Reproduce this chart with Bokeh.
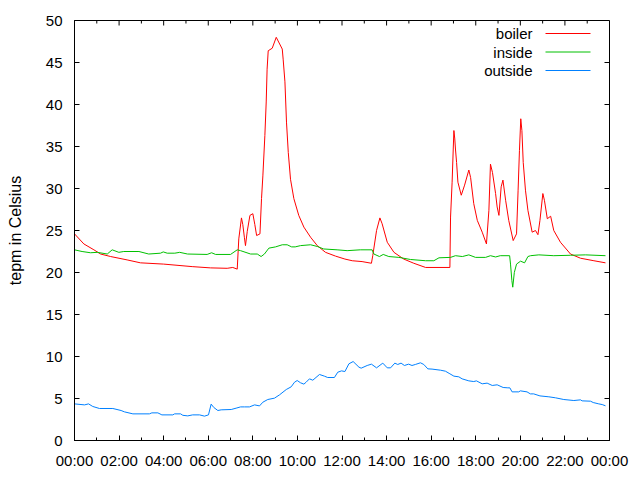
from bokeh.plotting import figure
from bokeh.models import (Range1d, FixedTicker, LinearAxis, Label, Arrow)
from bokeh.embed import file_html
from bokeh.resources import INLINE

# ---- data (time in hours since 00:00) ----
boiler_t = [0.0, 0.42, 0.87, 1.17, 1.62, 2.36, 2.96, 4.0, 5.28, 6.1, 6.85, 7.1, 7.3, 7.37, 7.49, 7.55,
            7.62, 7.67, 7.75, 7.87, 8.0, 8.09, 8.17, 8.32, 8.39, 8.45, 8.54, 8.6, 8.64, 8.69, 8.87, 9.05,
            9.32, 9.36, 9.44, 9.51, 9.59, 9.69, 9.84, 10.06, 10.29, 10.59, 10.89, 11.26, 11.71, 12.13,
            12.46, 12.9, 13.32, 13.38, 13.55, 13.7, 13.8, 14.03, 14.33, 14.77, 15.22, 15.75, 16.84,
            16.87, 16.94, 16.99, 17.02, 17.06, 17.09, 17.14, 17.2, 17.35, 17.5, 17.69, 17.77, 17.91,
            18.07, 18.29, 18.48, 18.59, 18.66, 18.75, 18.89, 18.96, 19.04, 19.14, 19.22, 19.34, 19.48,
            19.68, 19.83, 19.9, 19.96, 20.02, 20.07, 20.13, 20.23, 20.34, 20.53, 20.68, 20.79, 20.88,
            21.01, 21.08, 21.21, 21.36, 21.5, 21.8, 22.25, 22.7, 23.3, 23.82]
boiler_v = [24.6, 23.4, 22.7, 22.2, 21.9, 21.5, 21.15, 21.0, 20.7, 20.55, 20.5, 20.6, 20.4, 24.0, 26.5, 25.7,
            24.2, 23.2, 24.9, 26.8, 27.0, 25.7, 24.4, 24.6, 28.8, 31.5, 36.3, 40.3, 44.2, 46.4, 46.7, 48.0,
            46.6, 45.4, 42.7, 37.9, 34.3, 31.1, 28.8, 26.8, 25.4, 24.2, 23.2, 22.4, 21.95, 21.6,
            21.4, 21.3, 21.1, 22.0, 25.0, 26.5, 25.8, 23.6, 22.4, 21.6, 21.1, 20.6, 20.6,
            26.6, 30.75, 34.7, 36.9, 35.9, 34.7, 33.1, 30.75, 29.2, 30.4, 32.2, 31.3, 28.2,
            26.2, 24.8, 23.4, 27.4, 32.9, 31.9, 29.4, 27.8, 26.8, 30.2, 31.0, 28.6, 26.2,
            23.8, 24.6, 29.8, 34.5, 38.3, 36.9, 33.1, 29.8, 27.4, 24.8, 25.0, 24.5, 26.2,
            29.4, 28.6, 26.4, 26.7, 25.0, 23.6, 22.2, 21.7, 21.4, 21.15]

inside_t = [0.0, 0.34, 0.72, 1.02, 1.47, 1.69, 1.99, 2.21, 2.89, 3.33, 3.86, 3.98, 4.16, 4.5, 4.72, 5.07,
            5.95, 6.15, 6.33, 7.0, 7.3, 7.45, 7.9, 8.2, 8.37, 8.52, 8.72, 9.02, 9.32, 9.54, 9.74, 9.9,
            10.14, 10.59, 10.89, 11.18, 11.78, 12.23, 12.82, 13.35, 13.43, 13.68, 13.85, 14.1, 14.55,
            15.07, 15.75, 16.12, 16.35, 16.87, 17.09, 17.4, 17.69, 17.99, 18.44, 18.66, 18.89, 19.1,
            19.52, 19.56, 19.62, 19.66, 19.73, 19.83, 20.01, 20.19, 20.34, 20.46, 20.83, 21.5, 22.25,
            22.93, 23.82]
inside_v = [22.7, 22.5, 22.35, 22.4, 22.2, 22.7, 22.4, 22.5, 22.5, 22.2, 22.3, 22.45, 22.3, 22.3, 22.4, 22.2,
            22.15, 22.35, 22.15, 22.15, 22.7, 22.6, 22.2, 22.2, 21.9, 22.2, 22.9, 23.05, 23.3, 23.3, 23.05, 23.05,
            23.2, 23.3, 23.1, 22.8, 22.7, 22.6, 22.7, 22.7, 22.2, 21.9, 22.15, 21.9, 21.8,
            21.55, 21.4, 21.4, 21.75, 21.8, 22.0, 21.9, 22.1, 21.8, 21.8, 22.0, 21.85, 22.0,
            22.0, 21.0, 19.05, 18.25, 20.0, 21.0, 21.35, 21.15, 21.9, 22.0, 22.1, 22.0, 22.05,
            22.1, 22.0]

outside_t = [0.0, 0.45, 0.63, 0.82, 1.12, 1.72, 2.09, 2.24, 2.62, 3.36, 3.47, 3.74, 3.92, 4.41, 4.49, 4.76,
             4.86, 5.08, 5.3, 5.61, 5.83, 6.01, 6.13, 6.25, 6.43, 6.58, 7.03, 7.25, 7.45, 7.63, 7.85, 8.08,
             8.3, 8.45, 8.67, 8.97, 9.2, 9.5, 9.72, 9.87, 9.99, 10.14, 10.29, 10.39, 10.54, 10.69, 10.99,
             11.21, 11.36, 11.66, 11.81, 11.98, 12.13, 12.31, 12.5, 12.76, 12.86, 13.13, 13.32, 13.55,
             13.83, 14.03, 14.18, 14.37, 14.5, 14.65, 14.8, 14.99, 15.14, 15.29, 15.52, 15.67, 15.85,
             16.04, 16.42, 16.64, 16.84, 17.02, 17.24, 17.39, 17.69, 17.91, 18.03, 18.29, 18.51, 18.74,
             18.96, 19.23, 19.44, 19.53, 19.63, 19.93, 20.0, 20.3, 20.45, 20.6, 20.88, 21.28, 21.58,
             21.95, 22.4, 22.7, 22.77, 23.15, 23.27, 23.52, 23.67, 23.82]
outside_v = [4.36, 4.24, 4.36, 4.05, 3.81, 3.81, 3.57, 3.41, 3.17, 3.17, 3.29, 3.29, 3.05, 3.05, 3.17, 3.17,
             3.0, 2.93, 3.05, 3.05, 2.9, 3.05, 4.33, 3.93, 3.57, 3.65, 3.69, 3.85, 4.0, 4.0, 4.0, 4.24,
             4.12, 4.56, 4.88, 5.04, 5.44, 6.07, 6.39, 6.94, 7.14, 6.87, 6.71, 6.94, 7.34, 7.18, 7.86,
             7.66, 7.5, 7.5, 8.13, 8.29, 8.21, 9.13, 9.4, 8.73, 8.61, 8.93, 9.09, 8.65,
             9.21, 8.65, 8.65, 9.21, 9.05, 9.21, 8.93, 9.09, 8.93, 9.05, 9.25, 9.05, 8.53,
             8.5, 8.37, 8.25, 7.94, 7.66, 7.58, 7.34, 7.1, 7.02, 7.1, 6.75, 6.83, 6.55,
             6.63, 6.31, 6.27, 6.27, 5.79, 5.79, 5.91, 5.79, 5.55, 5.55, 5.31, 5.2, 5.08,
             4.88, 4.76, 4.84, 4.72, 4.68, 4.52, 4.36, 4.28, 4.13]

series_names = ["boiler", "inside", "outside"]
series_colors = ["#ff0000", "#00c000", "#0080ff"]

x_ticks = [0, 2, 4, 6, 8, 10, 12, 14, 16, 18, 20, 22, 24]
x_tick_labels = ["00:00", "02:00", "04:00", "06:00", "08:00", "10:00", "12:00",
                 "14:00", "16:00", "18:00", "20:00", "22:00", "00:00"]
x_minor = [h for h in range(0, 25) if h % 2 == 1]
y_ticks = [0, 5, 10, 15, 20, 25, 30, 35, 40, 45, 50]
y_label = "tepm in Celsius"

FONT = "Liberation Sans"
FS = "15px"
X0, X1, Y0, Y1 = 0, 24, 0, 50

p = figure(width=632, height=472, output_backend="svg", toolbar_location=None,
           x_range=Range1d(X0, X1), y_range=Range1d(Y0, Y1),
           min_border_left=74, min_border_right=23, min_border_top=20, min_border_bottom=32,
           x_axis_location=None, y_axis_location=None)
p.grid.visible = False
p.outline_line_color = "black"
p.background_fill_color = "white"
p.border_fill_color = "white"

xt = FixedTicker(ticks=x_ticks, minor_ticks=list(range(0, 25)))
yt = FixedTicker(ticks=y_ticks, minor_ticks=[])
overrides = {t: l for t, l in zip(x_ticks, x_tick_labels)}


def style(ax):
    ax.axis_line_color = "black"
    ax.major_tick_line_color = "black"
    ax.minor_tick_line_color = "black"
    ax.major_tick_in = 5
    ax.major_tick_out = 0
    ax.minor_tick_in = 3
    ax.minor_tick_out = 0
    ax.major_label_text_font = FONT
    ax.major_label_text_font_size = FS
    ax.major_label_text_color = "black"


bottom = LinearAxis(ticker=xt, major_label_overrides=overrides)
style(bottom)
bottom.major_label_standoff = 11
left = LinearAxis(ticker=yt, axis_label=y_label)
style(left)
left.major_label_standoff = 12
left.axis_label_text_font = FONT
left.axis_label_text_font_size = "16px"
left.axis_label_text_font_style = "normal"
left.axis_label_text_color = "black"
left.axis_label_standoff = 19

p.add_layout(bottom, "below")
p.add_layout(left, "left")

# mirrored tick marks on the top and right borders (gnuplot "mirror" tics)
px_per_x = 535.0 / (X1 - X0)
px_per_y = 420.0 / (Y1 - Y0)
p.segment(x0=x_ticks, y0=[Y1] * len(x_ticks), x1=x_ticks,
          y1=[Y1 - 5 / px_per_y] * len(x_ticks), line_color="black", line_width=1)
p.segment(x0=x_minor, y0=[Y1] * len(x_minor), x1=x_minor,
          y1=[Y1 - 3 / px_per_y] * len(x_minor), line_color="black", line_width=1)
p.segment(x0=[X1] * len(y_ticks), y0=y_ticks, x1=[X1 - 5 / px_per_x] * len(y_ticks),
          y1=y_ticks, line_color="black", line_width=1)

data = [(boiler_t, boiler_v), (inside_t, inside_v), (outside_t, outside_v)]
for (t, v), c in zip(data, series_colors):
    p.line(t, v, line_color=c, line_width=1)

# legend (gnuplot style: label then sample line), frame-relative screen units
for i, (name, c) in enumerate(zip(series_names, series_colors)):
    ys = 407 - i * 18.5
    p.add_layout(Label(x=458, y=ys, x_units="screen", y_units="screen", text=name,
                       text_align="right", text_baseline="middle",
                       text_font=FONT, text_font_size=FS, text_color="black"))
    p.add_layout(Arrow(x_start=471, y_start=ys, x_end=516, y_end=ys,
                       start_units="screen", end_units="screen", end=None, start=None,
                       line_color=c, line_width=1))

open("out.html", "w").write(file_html(p, INLINE))
